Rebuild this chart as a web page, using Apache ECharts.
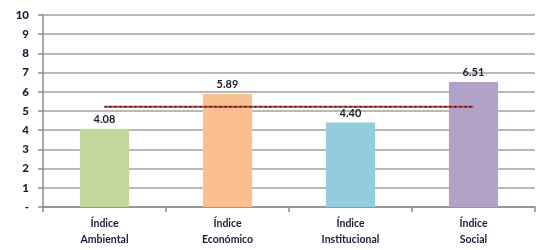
<!DOCTYPE html>
<html><head><meta charset="utf-8">
<script src="https://cdn.jsdelivr.net/npm/echarts@6/dist/echarts.min.js"></script>
<style>html,body{margin:0;padding:0;background:#fff}#c{width:541px;height:250px}</style>
</head><body><div id="c"></div>
<script>
var categories = ['Índice\nAmbiental', 'Índice\nEconómico', 'Índice\nInstitucional', 'Índice\nSocial'];
var values = [4.08, 5.89, 4.40, 6.51];
var barColors = ['#C3D69B', '#FAC090', '#93CDDD', '#B3A2C7'];
var average = [5.22, 5.22, 5.22, 5.22];
var yTicks = [0, 1, 2, 3, 4, 5, 6, 7, 8, 9, 10];

var chart = echarts.init(document.getElementById('c'), null, {renderer: 'canvas'});
var font = 'Lato, "Open Sans", sans-serif';
chart.setOption({
  animation: false,
  grid: {left: 43, right: 6, top: 15, bottom: 43},
  xAxis: {
    type: 'category', data: categories, boundaryGap: true,
    axisLine: {lineStyle: {color: '#8c8c8c', width: 1.5}},
    axisTick: {show: true, length: 5, lineStyle: {color: '#8c8c8c', width: 1.5}},
    axisLabel: {color: '#1c1c3c', fontFamily: font, fontSize: 10.5, fontWeight: 'bold', lineHeight: 16, margin: 9}
  },
  yAxis: {
    type: 'value', min: 0, max: 10, interval: 1,
    axisLine: {show: true, lineStyle: {color: '#8c8c8c', width: 1.5}},
    axisTick: {show: true, length: 5, lineStyle: {color: '#8c8c8c', width: 1.5}},
    splitLine: {lineStyle: {color: '#a0a0a0', width: 1.5}},
    axisLabel: {color: '#1c1c3c', fontFamily: font, fontSize: 11.5, fontWeight: 900, margin: 14,
      formatter: function (v) { return v === 0 ? '-' : String(v); }}
  },
  series: [
    {
      type: 'bar', barWidth: '40%',
      data: values.map(function (v, i) { return {value: v, itemStyle: {color: barColors[i]}}; }),
      label: {show: true, position: 'top', color: '#1c1c2c', fontFamily: font, fontSize: 11, fontWeight: 'bold',
        formatter: function (p) { return p.value.toFixed(2); }, distance: 4},
      z: 2
    },
    {
      type: 'line', data: average, symbol: 'none',
      lineStyle: {color: '#d83a3a', width: 2}, z: 3
    },
    {
      type: 'line', data: average, symbol: 'none',
      lineStyle: {color: '#1a1a1a', width: 1.5, type: [2, 3]}, z: 4
    }
  ]
});
</script></body></html>
